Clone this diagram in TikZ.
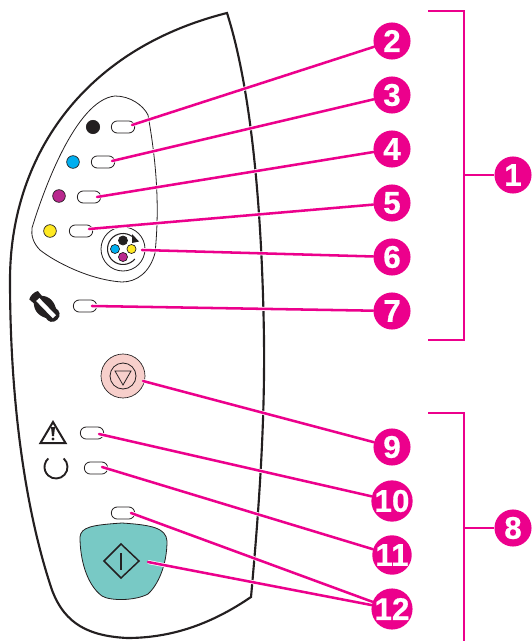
\documentclass[tikz,border=0pt]{standalone}
\usepackage{fontspec}
\setmainfont[BoldFeatures={FakeBold=0.6}]{Liberation Sans}
\definecolor{hpmag}{HTML}{EC008C}
\definecolor{ink}{HTML}{231F20}
\definecolor{dotc}{HTML}{00AEEF}
\definecolor{dotm}{HTML}{B9288E}
\definecolor{doty}{HTML}{FFE922}
\definecolor{pinkb}{HTML}{F7CFCB}
\definecolor{teal}{HTML}{78C9C5}
\tikzset{
  callout/.style={circle,fill=hpmag,text=white,inner sep=0pt,minimum size=27.8pt,font=\bfseries\fontsize{23.5}{23.5}\selectfont},
  lead/.style={draw=hpmag,line width=1.9pt,line cap=round,preaction={draw=white,line width=3pt}},
  brack/.style={draw=hpmag,line width=1.7pt},
  led/.style={draw=ink,fill=white,line width=.6pt,rounded corners=4.4pt,minimum width=17.5pt,minimum height=9pt,inner sep=0pt},
  dot/.style={circle,draw=ink,line width=.5pt,inner sep=0pt,minimum size=#1},
  outline/.style={draw=ink,line width=1.6pt,line join=miter},
  thin line/.style={draw=ink,line width=.6pt}
}
\begin{document}
\begin{tikzpicture}[x=0.75pt,y=-0.75pt]
\useasboundingbox (0,0) rectangle (531,641);
% housing
\draw[outline] (227,13) .. controls (250,85) and (262,200) .. (264,340)
  .. controls (265,430) and (258,520) .. (251,597)
  .. controls (210,625) and (170,638) .. (127,638)
  .. controls (90,636) and (65,625) .. (52,590)
  .. controls (25,510) and (10,400) .. (10,280)
  .. controls (10,160) and (80,50) .. (227,13) -- cycle;
% inner panel
\draw[thin line] (115,96) .. controls (130,96) and (143,105) .. (148,115)
  .. controls (156,160) and (160,205) .. (155,253)
  .. controls (150,272) and (137,282) .. (122,282)
  .. controls (90,280) and (55,262) .. (40,250)
  .. controls (33,243) and (31,235) .. (32,228)
  .. controls (42,195) and (75,100) .. (115,96) -- cycle;
% LEDs
\node[led] (l2) at (123,127) {};
\node[led] (l3) at (103,162) {};
\node[led] (l4) at (89,197) {};
\node[led] (l5) at (81,231) {};
\node[led] (l7) at (85,306) {};
\node[led] (l10) at (92,433) {};
\node[led] (l11) at (96,468) {};
\node[led] (l12) at (123,513) {};
% coloured dots
\node[dot=10pt,fill=ink] (dk) at (93,127) {};
\node[dot=9.5pt,fill=dotc] (dc) at (73,162) {};
\node[dot=9.5pt,fill=dotm] (dm) at (59,196) {};
\node[dot=9.5pt,fill=doty] (dy) at (50,231) {};
% cartridge carousel
\node[circle,thin line,minimum size=33pt,inner sep=0pt] (car) at (123,249) {};
\draw[draw=ink,line width=.8pt] (123,249) ++(40:15.5) arc (40:305:15.5);
\fill[ink] (139,241.5) -- (132,234) -- (132,243) -- cycle;
\node[dot=6.8pt,fill=ink] at (123,240.5) {};
\node[dot=6.8pt,fill=dotc] at (115,249) {};
\node[dot=6.8pt,fill=doty] at (131.5,249) {};
\node[dot=6.8pt,fill=dotm] at (123,257) {};
% toner icon
\begin{scope}[shift={(44,306)},rotate=-46]
  \fill[ink] (-15,-6) .. controls (-17,-3) and (-17,3) .. (-15,6)
    -- (-9,5.5) .. controls (-6,8) and (-3,9.5) .. (1,9.5)
    .. controls (5,9.5) and (8,8) .. (10,7)
    .. controls (14,8) and (19,6) .. (19,0)
    .. controls (19,-6) and (14,-8) .. (10,-7)
    .. controls (8,-8) and (5,-9.5) .. (1,-9.5)
    .. controls (-3,-9.5) and (-6,-8) .. (-9,-5.5)
    -- cycle;
  \fill[white] (-9,-2.2) rectangle (15,2.2);
\end{scope}
% button 9
\node[circle,draw=ink,fill=pinkb,line width=.5pt,minimum size=33pt,inner sep=0pt] (b9) at (123,376) {};
\node[circle,thin line,minimum size=19.5pt,inner sep=0pt] at (123,376) {};
\draw[thin line,line join=miter] (115,371) -- (131,371) -- (123,385) -- cycle;
% warning
\draw[draw=ink,line width=1.5pt,line join=miter] (53,422) -- (65.5,443) -- (40.5,443) -- cycle;
\fill[ink] (51,427) -- (55,427) -- (54,436) -- (52,436) -- cycle;
\fill[ink] (53,439) circle (1.7);
% ready ring
\draw[draw=ink,line width=1.4pt] (56,467) ++(-48:11.5) arc (-48:228:11.5);
% go button
\draw[draw=ink,fill=teal,line width=.6pt] (80,537) .. controls (81,527) and (92,525) .. (122,523)
  .. controls (152,525) and (166,528) .. (167,541)
  .. controls (167,565) and (158,585) .. (148,594)
  .. controls (135,601) and (110,601) .. (102,596)
  .. controls (87,585) and (80,560) .. (80,537) -- cycle;
\draw[draw=ink,line width=1.1pt,line join=miter] (121,544) -- (139,561) -- (121,578) -- (104,561) -- cycle;
\draw[draw=ink,line width=1.1pt] (121,553) -- (121,570);
% brackets
\node[callout] (n1) at (513,175) {1};
\node[callout] (n8) at (513,528) {8};
\coordinate (b1a) at (428,11);
\coordinate (b1b) at (464,11);
\coordinate (b1c) at (464,340);
\coordinate (b1d) at (428,340);
\coordinate (b1e) at (464,175);
\coordinate (b8a) at (428,413);
\coordinate (b8b) at (464,413);
\coordinate (b8c) at (464,641);
\coordinate (b8e) at (464,528);
\draw[brack] (b1a) -- (b1b) -- (b1c) -- (b1d);
\draw[brack] (b1e) -- (n1);
\draw[brack] (b8a) -- (b8b) -- (b8c);
\draw[brack] (b8e) -- (n8);
% callouts
\node[callout] (n2) at (392,41) {2};
\node[callout] (n3) at (392,95) {3};
\node[callout] (n4) at (392,149) {4};
\node[callout] (n5) at (392,203) {5};
\node[callout] (n6) at (392,257) {6};
\node[callout] (n7) at (392,311) {7};
\node[callout] (n9) at (392,447) {9};
\node[callout] (n10) at (392,501) {10};
\node[callout] (n11) at (392,555) {11};
\node[callout] (n12) at (392,609) {12};
% leader starts
\coordinate (s2) at (132,125);
\coordinate (s3) at (112,161);
\coordinate (s4) at (97,197);
\coordinate (s5) at (89,229);
\coordinate (s6) at (142,250);
\coordinate (s7) at (92,306);
\coordinate (s9) at (143,381);
\coordinate (s10) at (99,434);
\coordinate (s11) at (102,467);
\coordinate (s12a) at (131,513);
\coordinate (s12b) at (148,562);
\foreach \a/\b in {s2/n2,s3/n3,s4/n4,s5/n5,s6/n6,s7/n7,s9/n9,s10/n10,s11/n11,s12a/n12,s12b/n12}
  \draw[lead] (\a) -- (\b);
\end{tikzpicture}
\end{document}
